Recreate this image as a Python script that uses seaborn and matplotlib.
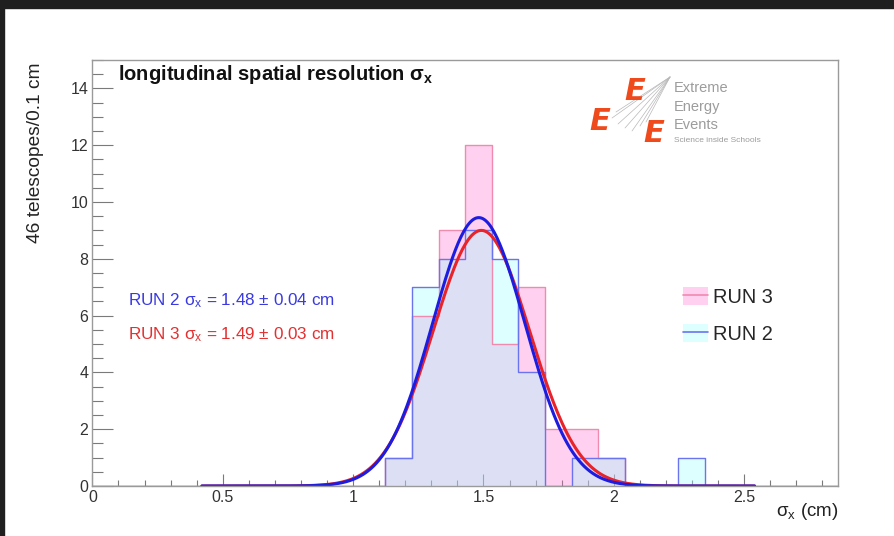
import numpy as np
import pandas as pd
import matplotlib
matplotlib.use("Agg")
import matplotlib.pyplot as plt
import seaborn as sns
from matplotlib.patches import Patch, Rectangle
from matplotlib.lines import Line2D
from matplotlib.legend_handler import HandlerTuple
from matplotlib.ticker import MultipleLocator

# ---------------- data ----------------
x_min, x_max, n_bins = 0.0, 2.86, 28
run3_counts = [0, 0, 0, 0, 0, 0, 0, 0, 0, 0, 0, 1, 6, 9, 12, 5, 7, 2, 2, 1, 0, 0, 0, 0, 0, 0, 0, 0]
run2_counts = [0, 0, 0, 0, 0, 0, 0, 0, 0, 0, 0, 1, 7, 8, 9, 8, 4, 0, 1, 1, 0, 0, 1, 0, 0, 0, 0, 0]
# gaussian fit parameters (amplitude, mean, width) and fit range
run3_fit = (9.0, 1.492, 0.185)
run2_fit = (9.45, 1.482, 0.177)
fit_range = (0.42, 2.54)
run2_label = r"RUN 2 $\mathregular{\sigma_{x}}$ = 1.48 $\mathregular{\pm}$ 0.04 cm"
run3_label = r"RUN 3 $\mathregular{\sigma_{x}}$ = 1.49 $\mathregular{\pm}$ 0.03 cm"
title = r"longitudinal spatial resolution $\mathregular{\sigma_{x}}$"
y_label = "46 telescopes/0.1 cm"
x_label = r"$\mathregular{\sigma_{x}}$ (cm)"

# ---------------- style ----------------
sns.set_style("white")
plt.rcParams["font.family"] = ["Liberation Sans", "DejaVu Sans"]
plt.rcParams["mathtext.fontset"] = "custom"
plt.rcParams["mathtext.rm"] = "Liberation Sans"
plt.rcParams["mathtext.it"] = "Liberation Sans:italic"
plt.rcParams["mathtext.bf"] = "Liberation Sans:bold"

W, H = 894, 536
fig = plt.figure(figsize=(W / 100, H / 100), dpi=100)

def px(x, y):
    return (x / W, 1 - y / H)

ax_l, ax_r, ax_t, ax_b = 92.4, 838, 60, 486
ax = fig.add_axes([ax_l / W, 1 - ax_b / H, (ax_r - ax_l) / W, (ax_b - ax_t) / H])

edges = np.linspace(x_min, x_max, n_bins + 1)
centers = (edges[:-1] + edges[1:]) / 2
df = pd.DataFrame({"x": centers, "run3": run3_counts, "run2": run2_counts})

pink_fill, pink_alpha, pink_edge = "#ff66cc", 0.30, "#f08aae"
cyan_fill, cyan_alpha, blue_edge = "#9effff", 0.35, "#6a74ee"

hist_kw = dict(bins=n_bins, binrange=(x_min, x_max), element="step", ax=ax)
sns.histplot(data=df, x="x", weights="run3", fill=True,
             color=pink_fill, alpha=pink_alpha, linewidth=0, **hist_kw)
sns.histplot(data=df, x="x", weights="run2", fill=True,
             color=cyan_fill, alpha=cyan_alpha, linewidth=0, **hist_kw)
sns.histplot(data=df, x="x", weights="run3", fill=False,
             color=pink_edge, linewidth=1.0, **hist_kw)
sns.histplot(data=df, x="x", weights="run2", fill=False,
             color=blue_edge, linewidth=1.0, **hist_kw)

xs = np.linspace(fit_range[0], fit_range[1], 400)
def gauss(p, x):
    a, m, s = p
    return a * np.exp(-0.5 * ((x - m) / s) ** 2)
fit_df = pd.DataFrame({"x": xs, "run3": gauss(run3_fit, xs), "run2": gauss(run2_fit, xs)})
sns.lineplot(data=fit_df, x="x", y="run3", color="#e8232a", linewidth=2.2, ax=ax)
sns.lineplot(data=fit_df, x="x", y="run2", color="#1d1de0", linewidth=2.2, ax=ax)

ax.set_xlim(x_min, x_max)
ax.set_ylim(0, 15)
ax.set_xlabel("")
ax.set_ylabel("")
ax.xaxis.set_major_locator(MultipleLocator(0.5))
ax.xaxis.set_minor_locator(MultipleLocator(0.1))
ax.yaxis.set_major_locator(MultipleLocator(2))
ax.yaxis.set_minor_locator(MultipleLocator(0.5))
ax.set_xticks([0, 0.5, 1, 1.5, 2, 2.5])
ax.set_xticklabels(["0", "0.5", "1", "1.5", "2", "2.5"])
tick_col = "#7a7a7a"
ax.tick_params(axis="x", which="major", direction="in", length=9, width=0.8, color=tick_col,
               labelsize=11.5, labelcolor="#333333", pad=3, bottom=True, top=False)
ax.tick_params(axis="x", which="minor", direction="in", length=4.5, width=0.8, color=tick_col,
               bottom=True, top=False)
ax.tick_params(axis="y", which="major", direction="in", length=15, width=0.8, color=tick_col,
               labelsize=11.5, labelcolor="#333333", pad=3, left=True, right=False)
ax.tick_params(axis="y", which="minor", direction="in", length=8, width=0.8, color=tick_col,
               left=True, right=False)
for sp in ax.spines.values():
    sp.set_color("#9a9a9a")
    sp.set_linewidth(1.0)

fig.text(*px(118, 75), title, fontsize=14.5, fontweight="bold", color="#111111", va="center", ha="left")
fig.text(*px(128, 301), run2_label, fontsize=12.3, color="#3a3ae0", va="center", ha="left")
fig.text(*px(128, 335), run3_label, fontsize=12.3, color="#e33030", va="center", ha="left")
fig.text(*px(36, 62), y_label, fontsize=13.8, color="#222222", rotation=90, va="top", ha="center")
fig.text(*px(838, 512), x_label, fontsize=13.5, color="#222222", va="center", ha="right")

# legend
h3 = (Patch(facecolor=pink_fill, alpha=pink_alpha, edgecolor="none"),
      Line2D([], [], color=pink_edge, linewidth=1.2))
h2 = (Patch(facecolor=cyan_fill, alpha=cyan_alpha, edgecolor="none"),
      Line2D([], [], color=blue_edge, linewidth=1.2))
leg = fig.legend([h3, h2], ["RUN 3", "RUN 2"], handler_map={tuple: HandlerTuple(ndivide=1, pad=0)},
                 loc="upper left", bbox_to_anchor=px(683, 287), frameon=False, fontsize=14.4,
                 handlelength=1.25, handleheight=1.0, labelspacing=0.85, handletextpad=0.25,
                 borderaxespad=0, borderpad=0)

# logo
e_col = "#ef4a1c"
for (lx, ly) in [(635, 92), (600, 121), (654, 133)]:
    fig.text(*px(lx, ly), "E", fontsize=22, color=e_col, ha="center", va="center",
             fontweight="bold", fontstyle="italic", family="DejaVu Sans")
for (tx, ty) in [(612, 118), (618, 124), (625, 128), (632, 131), (640, 126), (646, 122), (616, 112)]:
    fig.add_artist(Line2D([670 / W, tx / W], [1 - 77 / H, 1 - ty / H], color="#b8b8b8", linewidth=0.5))
gray = "#9c9c9c"
fig.text(*px(674, 88), "Extreme", fontsize=10.5, color=gray, va="center", ha="left")
fig.text(*px(674, 107), "Energy", fontsize=10.5, color=gray, va="center", ha="left")
fig.text(*px(674, 125), "Events", fontsize=10.5, color=gray, va="center", ha="left")
fig.text(*px(674, 140), "Science inside Schools", fontsize=6, color=gray, va="center", ha="left")

# screenshot borders
fig.add_artist(Rectangle((0, 1 - 8 / H), 1, 8 / H, transform=fig.transFigure, color="#1f1f1f", zorder=10))
fig.add_artist(Rectangle((0, 0), 4 / W, 1, transform=fig.transFigure, color="#1f1f1f", zorder=10))

fig.savefig("out.png", dpi=100)
